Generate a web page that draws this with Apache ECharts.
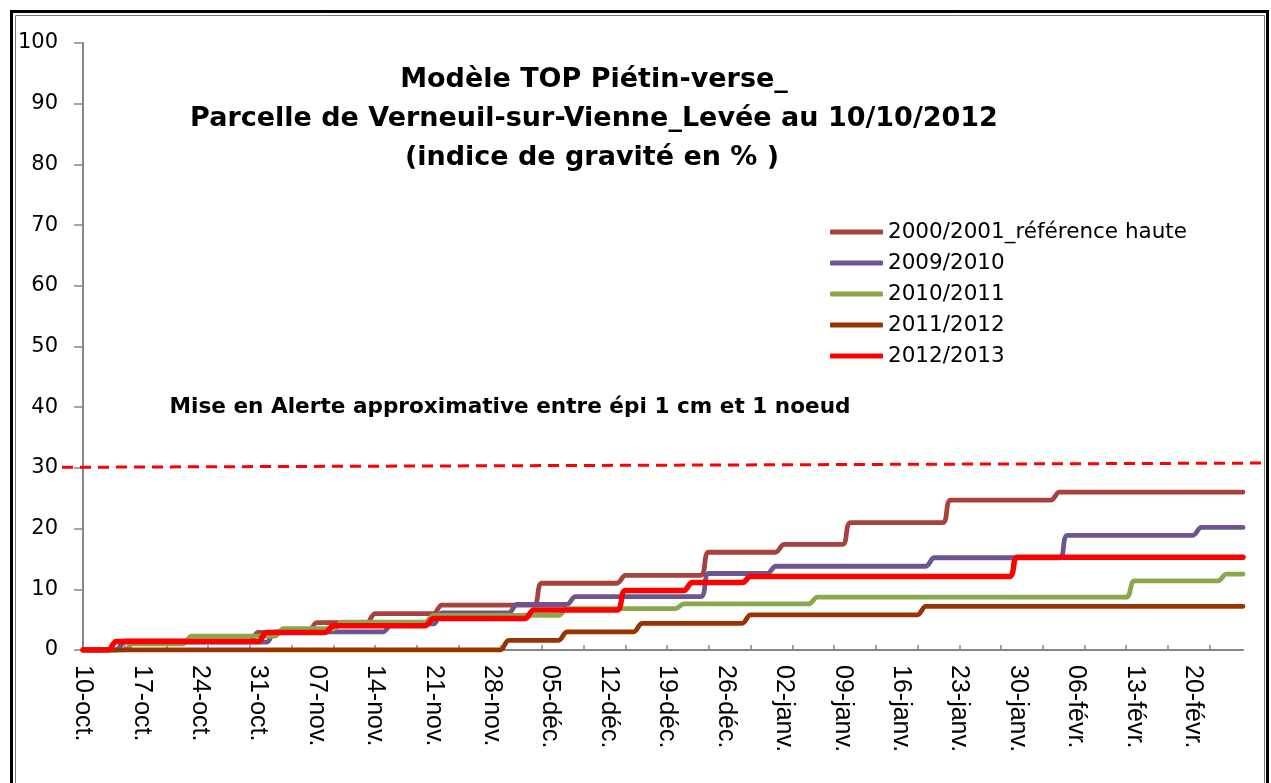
<!DOCTYPE html>
<html>
<head>
<meta charset="utf-8">
<script src="https://cdn.jsdelivr.net/npm/echarts@6/dist/echarts.min.js"></script>
<style>
  html, body { margin: 0; padding: 0; background: #fff; }
  #chart { width: 1271px; height: 783px; }
</style>
</head>
<body>
<div id="chart"></div>
<script>
// ---- Data ----
const monthNames = ['janv.', 'févr.', 'mars', 'avr.', 'mai', 'juin', 'juil.', 'août', 'sept.', 'oct.', 'nov.', 'déc.'];
const firstDay = [2012, 9, 10];   // 10 octobre 2012
const dayCount = 140;             // 10-oct. .. 26-févr.

const seriesNames = ['2000/2001_référence haute', '2009/2010', '2010/2011', '2011/2012', '2012/2013'];
const seriesColors = ['#A8423F', '#6E5592', '#8BA64C', '#993300', '#FF0000'];

// [day index, indice de gravité %] at each change of level
const s2000 = [[0,0],[4,0],[5,1.5],[20,1.5],[21,2.9],[27,2.9],[28,4.5],[34,4.5],[35,6.0],[42,6.0],[43,7.4],[54,7.4],[55,11.0],[64,11.0],[65,12.3],[74,12.3],[75,16.1],[83,16.1],[84,17.4],[91,17.4],[92,21.0],[103,21.0],[104,24.7],[116,24.7],[117,26.0],[139,26.0]];
const s2009 = [[0,0],[4,0],[5,1.3],[22,1.3],[23,3.0],[36,3.0],[37,4.3],[42,4.3],[43,6.1],[51,6.1],[52,7.5],[58,7.5],[59,8.8],[74,8.8],[75,12.6],[82,12.6],[83,13.8],[101,13.8],[102,15.2],[117,15.2],[118,18.9],[133,18.9],[134,20.2],[139,20.2]];
const s2010 = [[0,0],[5,0],[6,1.0],[12,1.0],[13,2.3],[23,2.3],[24,3.5],[30,3.5],[31,4.6],[41,4.6],[42,5.7],[57,5.7],[58,6.8],[71,6.8],[72,7.6],[87,7.6],[88,8.7],[125,8.7],[126,11.4],[136,11.4],[137,12.5],[139,12.5]];
const s2011 = [[0,0],[50,0],[51,1.6],[57,1.6],[58,3.0],[66,3.0],[67,4.4],[79,4.4],[80,5.8],[100,5.8],[101,7.2],[139,7.2]];
const s2012 = [[0,0],[3,0],[4,1.4],[21,1.4],[22,2.9],[29,2.9],[30,4.0],[41,4.0],[42,5.2],[53,5.2],[54,6.6],[64,6.6],[65,9.8],[72,9.8],[73,11.1],[79,11.1],[80,12.1],[111,12.1],[112,15.3],[139,15.3]];
const seriesData = [s2000, s2009, s2010, s2011, s2012];

const yTicks = { min: 0, max: 100, step: 10 };
const alertLevel = [30.1, 30.8];   // dashed alert line (left end, right end)

const titleLines = ['Modèle TOP Piétin-verse_', 'Parcelle de Verneuil-sur-Vienne_Levée au 10/10/2012', '(indice de gravité en % )'];
const alertText = 'Mise en Alerte approximative entre épi 1 cm et 1 noeud';

// ---- Categories (daily dates) ----
const categories = [];
for (let i = 0; i < dayCount; i++) {
  const d = new Date(firstDay[0], firstDay[1], firstDay[2] + i);
  const dd = String(d.getDate()).padStart(2, '0');
  categories.push(dd + '-' + monthNames[d.getMonth()]);
}

const chart = echarts.init(document.getElementById('chart'), null, { renderer: 'canvas' });

const series = seriesNames.map((name, k) => ({
  name: name,
  type: 'line',
  data: seriesData[k],
  color: seriesColors[k],
  symbol: 'none',
  smooth: 0.3,
  lineStyle: { width: k === 4 ? 5.5 : 4.8, color: seriesColors[k], cap: 'round', join: 'round' },
  z: 2 + k
}));

const option = {
  backgroundColor: '#ffffff',
  animation: false,
  grid: { left: 83, right: 28, top: 43, bottom: 133, containLabel: false },
  legend: {
    orient: 'vertical',
    left: 830,
    top: 221,
    padding: 0,
    itemWidth: 53,
    itemHeight: 5,
    itemGap: 9,
    icon: 'roundRect',
    data: seriesNames,
    textStyle: { fontFamily: 'DejaVu Sans', fontSize: 21.5, color: '#000', lineHeight: 22 },
    selectedMode: false
  },
  xAxis: {
    type: 'category',
    data: categories,
    boundaryGap: false,
    axisLine: { lineStyle: { color: '#868686', width: 2 } },
    axisTick: { inside: true, length: 5, interval: 4, lineStyle: { color: '#868686', width: 1.5 } },
    axisLabel: {
      interval: 6,
      rotate: -90,
      margin: 15,
      fontFamily: 'Liberation Sans',
      fontSize: 25,
      color: '#000'
    },
    splitLine: { show: false }
  },
  yAxis: {
    type: 'value',
    min: yTicks.min,
    max: yTicks.max,
    interval: yTicks.step,
    axisLine: { show: true, lineStyle: { color: '#868686', width: 2 } },
    axisTick: { show: true, length: 9, lineStyle: { color: '#868686', width: 1.5 } },
    axisLabel: { margin: 25, fontFamily: 'DejaVu Sans', fontSize: 21, color: '#000' },
    splitLine: { show: false }
  },
  series: series,
  graphic: [
    { id: 'frameOuter', type: 'rect', shape: { x: 11.5, y: 11.5, width: 1256, height: 800 },
      style: { fill: null, stroke: '#000', lineWidth: 3 }, z: 100, silent: true },
    { id: 'frameInner', type: 'rect', shape: { x: 15.5, y: 15.5, width: 1249, height: 800 },
      style: { fill: null, stroke: '#777', lineWidth: 1 }, z: 100, silent: true },
    { id: 't1', type: 'text', x: 594, y: 80, style: { text: titleLines[0], font: 'bold 27px "DejaVu Sans"', fill: '#000', align: 'center', verticalAlign: 'middle' }, z: 50 },
    { id: 't2', type: 'text', x: 594, y: 119, style: { text: titleLines[1], font: 'bold 27px "DejaVu Sans"', fill: '#000', align: 'center', verticalAlign: 'middle' }, z: 50 },
    { id: 't3', type: 'text', x: 592, y: 158, style: { text: titleLines[2], font: 'bold 27px "DejaVu Sans"', fill: '#000', align: 'center', verticalAlign: 'middle' }, z: 50 },
    { id: 'alert', type: 'text', x: 510, y: 407, style: { text: alertText, font: 'bold 21.6px "DejaVu Sans"', fill: '#000', align: 'center', verticalAlign: 'middle' }, z: 50 }
  ]
};

chart.setOption(option);

// dashed alert line positioned through the y axis scale
const yL = chart.convertToPixel({ yAxisIndex: 0 }, alertLevel[0]);
const yR = chart.convertToPixel({ yAxisIndex: 0 }, alertLevel[1]);
chart.setOption({
  graphic: [
    { id: 'alertLine', type: 'line', shape: { x1: 62, y1: yL, x2: 1266, y2: yR },
      style: { stroke: '#FF0000', lineWidth: 3, lineDash: [11, 7] }, z: 40, silent: true }
  ]
});
</script>
</body>
</html>
